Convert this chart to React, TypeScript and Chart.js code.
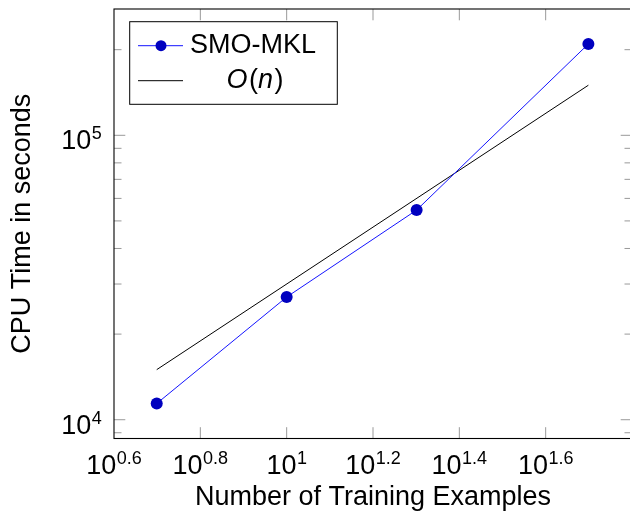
import React, { useEffect, useRef } from 'react';
import { Chart, registerables } from 'chart.js';

Chart.register(...registerables);

// ---- data ----
const trainingExamples = [5, 10, 20, 50];
const smoMklSeconds = [11400, 27000, 54600, 209500];
const linearRefExamples = [5, 50];
const linearRefSeconds = [15000, 150000];
const seriesLabels = ['SMO-MKL', 'O(n)'];

const xLabelExponents = ['0.6', '0.8', '1', '1.2', '1.4', '1.6'];
const xMarkExponents = [0.8, 1.0, 1.2, 1.4, 1.6];
const yLabelExponents = ['4', '5'];
const yMajorTicks = [10000, 100000];
const yMinorTicks = [9000, 20000, 30000, 40000, 50000, 60000, 70000, 80000, 90000, 200000];

const xMin = Math.pow(10, 0.6);
const xMax = Math.pow(10, 1.8);
const yMin = 8590;
const yMax = 278000;

const FONT = "'Liberation Sans', Arial, sans-serif";

const decorPlugin = {
  id: 'pgfDecor',
  afterDraw(chart: any) {
    const { ctx, chartArea: a, scales } = chart;
    const xs = scales.x;
    const ys = scales.y;
    const MAJOR = 11.3;
    const MINOR = 7.5;
    ctx.save();
    const line = (x1: number, y1: number, x2: number, y2: number) => {
      ctx.beginPath();
      ctx.moveTo(x1, y1);
      ctx.lineTo(x2, y2);
      ctx.stroke();
    };
    // tick marks
    ctx.strokeStyle = '#999999';
    ctx.lineWidth = 1;
    xMarkExponents.forEach((e) => {
      const px = xs.getPixelForValue(Math.pow(10, e));
      line(px, a.bottom, px, a.bottom - MAJOR);
      line(px, a.top, px, a.top + MAJOR);
    });
    yMajorTicks.forEach((v) => {
      const py = ys.getPixelForValue(v);
      line(a.left, py, a.left + MAJOR, py);
      line(a.right, py, a.right - MAJOR, py);
    });
    yMinorTicks.forEach((v) => {
      const py = ys.getPixelForValue(v);
      line(a.left, py, a.left + MINOR, py);
      line(a.right, py, a.right - MINOR, py);
    });
    // frame
    ctx.strokeStyle = '#000';
    ctx.lineWidth = 1.1;
    ctx.strokeRect(a.left, a.top, a.right - a.left, a.bottom - a.top);

    // tick labels 10^e
    const baseFont = `27px ${FONT}`;
    const expFont = `18px ${FONT}`;
    ctx.fillStyle = '#000';
    ctx.textBaseline = 'alphabetic';
    ctx.textAlign = 'left';
    const measure = (exp: string) => {
      ctx.font = baseFont;
      const w1 = ctx.measureText('10').width;
      ctx.font = expFont;
      const w2 = ctx.measureText(exp).width;
      return { w1, w2 };
    };
    const drawPow = (exp: string, x0: number, baseY: number) => {
      const { w1 } = measure(exp);
      ctx.font = baseFont;
      ctx.fillText('10', x0, baseY);
      ctx.font = expFont;
      ctx.fillText(exp, x0 + w1 + 0.5, baseY - 10);
    };
    xLabelExponents.forEach((e) => {
      const px = xs.getPixelForValue(Math.pow(10, parseFloat(e)));
      const { w1, w2 } = measure(e);
      drawPow(e, px - (w1 + w2 + 0.5) / 2, a.bottom + 35);
    });
    yLabelExponents.forEach((e) => {
      const py = ys.getPixelForValue(Math.pow(10, parseFloat(e)));
      const { w1, w2 } = measure(e);
      drawPow(e, a.left - 12.3 - (w1 + w2 + 0.5), py + 14);
    });

    // legend
    const lx = a.left + 15.7;
    const ly = a.top + 12.7;
    const lw = 207.6;
    const lh = 82.6;
    ctx.fillStyle = '#fff';
    ctx.fillRect(lx, ly, lw, lh);
    ctx.strokeStyle = '#000';
    ctx.lineWidth = 1;
    ctx.strokeRect(lx, ly, lw, lh);
    const row1 = ly + 24;
    const row2 = ly + 59;
    const sx1 = lx + 8.3;
    const sx2 = lx + 53.3;
    const ds0 = chart.data.datasets[0];
    const ds1 = chart.data.datasets[1];
    ctx.strokeStyle = ds0.borderColor;
    ctx.lineWidth = 1;
    line(sx1, row1, sx2, row1);
    ctx.fillStyle = ds0.pointBackgroundColor;
    ctx.beginPath();
    ctx.arc(lx + 31.3, row1, 5.5, 0, Math.PI * 2);
    ctx.fill();
    ctx.strokeStyle = ds1.borderColor;
    line(sx1, row2, sx2, row2);

    const tx = lx + 60.3;
    ctx.fillStyle = '#000';
    ctx.font = baseFont;
    ctx.fillText(ds0.label, tx, row1 + 7.3);
    const colW = ctx.measureText(ds0.label).width;

    // O(n) with italic O and n
    const lab = ds1.label as string; // "O(n)"
    const parts = [
      { t: lab.charAt(0), it: true },
      { t: lab.charAt(1), it: false },
      { t: lab.slice(2, lab.length - 1), it: true },
      { t: lab.charAt(lab.length - 1), it: false },
    ];
    const itFont = `italic 27px ${FONT}`;
    let total = 0;
    const widths = parts.map((p) => {
      ctx.font = p.it ? itFont : baseFont;
      const w = ctx.measureText(p.t).width + (p.it ? 1.5 : 0);
      total += w;
      return w;
    });
    let cx = tx + colW / 2 - total / 2 + 2;
    parts.forEach((p, i) => {
      ctx.font = p.it ? itFont : baseFont;
      ctx.fillText(p.t, cx, row2 + 7.3);
      cx += widths[i];
    });
    ctx.restore();
  },
};

export default function App() {
  const ref = useRef<HTMLCanvasElement | null>(null);
  useEffect(() => {
    if (!ref.current) return;
    const chart = new Chart(ref.current, {
      type: 'scatter',
      data: {
        datasets: [
          {
            label: seriesLabels[0],
            data: trainingExamples.map((x, i) => ({ x, y: smoMklSeconds[i] })),
            showLine: true,
            borderColor: '#1414ff',
            borderWidth: 1,
            pointRadius: 6,
            pointBackgroundColor: '#0000bf',
            pointBorderColor: '#0000bf',
            pointBorderWidth: 0,
          },
          {
            label: seriesLabels[1],
            data: linearRefExamples.map((x, i) => ({ x, y: linearRefSeconds[i] })),
            showLine: true,
            borderColor: '#000000',
            borderWidth: 1,
            pointRadius: 0,
          },
        ],
      },
      options: {
        responsive: false,
        animation: false,
        events: [],
        layout: { padding: { top: 9, right: 8, left: 0, bottom: 0 } },
        plugins: { legend: { display: false }, tooltip: { enabled: false } },
        scales: {
          x: {
            type: 'logarithmic',
            min: xMin,
            max: xMax,
            grid: { display: false },
            border: { display: false },
            ticks: { display: false },
            title: {
              display: true,
              text: 'Number of Training Examples',
              color: '#000',
              font: { family: FONT, size: 27 },
              padding: { top: 0, bottom: 0 },
            },
            afterFit: (s: any) => {
              s.height = 75.5;
            },
          },
          y: {
            type: 'logarithmic',
            min: yMin,
            max: yMax,
            grid: { display: false },
            border: { display: false },
            ticks: { display: false },
            title: {
              display: true,
              text: 'CPU Time in seconds',
              color: '#000',
              font: { family: FONT, size: 27 },
              padding: { top: 6, bottom: 0 },
            },
            afterFit: (s: any) => {
              s.width = 114;
            },
          },
        },
      },
      plugins: [decorPlugin],
    } as any);
    return () => chart.destroy();
  }, []);
  return (
    <div
      style={{
        position: 'absolute',
        left: 0,
        top: 0,
        width: 630,
        height: 514,
        overflow: 'hidden',
        background: '#fff',
      }}
    >
      <canvas ref={ref} width={640} height={514} style={{ display: 'block', width: 640, height: 514 }} />
    </div>
  );
}
